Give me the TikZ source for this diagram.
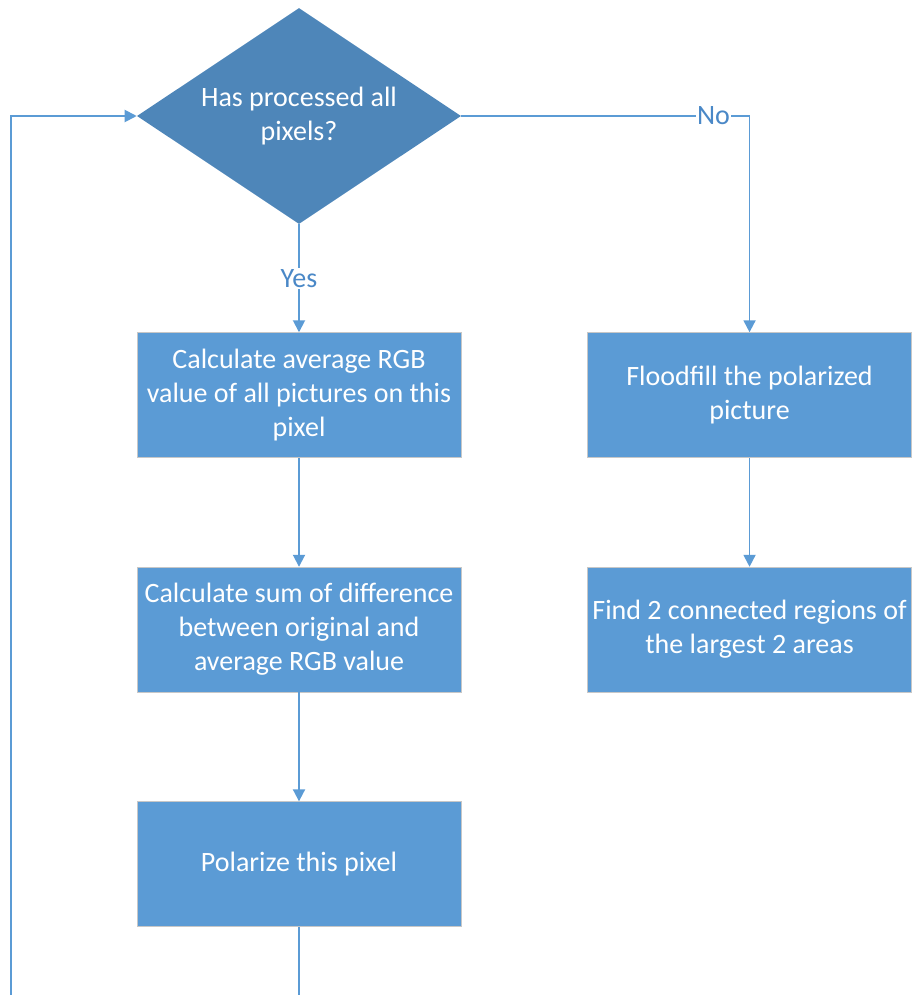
\documentclass[tikz,border=0pt]{standalone}
\usepackage{fontspec}
\setmainfont{Carlito}
\usepackage{tikz}
\usetikzlibrary{shapes.geometric,arrows.meta,positioning}
\definecolor{cBox}{HTML}{5B9BD5}
\definecolor{cDec}{HTML}{4E86B9}
\definecolor{cLine}{HTML}{5B9BD5}
\definecolor{cLab}{HTML}{4A88C7}
\tikzset{
  proc/.style = {rectangle, draw=black!22, fill=cBox, line width=0.4pt, text=white,
                 align=center, inner sep=2pt, minimum width=243pt, minimum height=93.75pt,
                 font=\fontsize{21}{25.5}\selectfont},
  dec/.style  = {diamond, aspect=1.5, fill=cDec, text=white, align=center, inner sep=0pt,
                 minimum width=243pt, minimum height=162pt,
                 font=\fontsize{21}{25.5}\selectfont},
  fl/.style   = {-{Triangle[length=9pt,width=9pt]}, draw=cLine, line width=1.4pt},
  ln/.style   = {draw=cLine, line width=1.4pt},
  lab/.style  = {fill=white, text=cLab, inner sep=1pt, font=\fontsize{21}{24}\selectfont},
}
\begin{document}
\begin{tikzpicture}[x=0.75pt, y=-0.75pt, node distance=81.75pt and 94.5pt]
  \useasboundingbox (0,0) rectangle (911,995);
  \node[dec] (check) at (299,116) {Has processed all\\pixels?};
  \node[proc, below=81pt of check] (avg) {Calculate average RGB\\value of all pictures on this\\pixel};
  \node[proc, below=of avg] (diff) {Calculate sum of difference\\between original and\\average RGB value};
  \node[proc, below=of diff] (polar) {Polarize this pixel};
  \node[proc, right=of avg] (flood) {Floodfill the polarized\\picture};
  \node[proc, below=of flood] (find) {Find 2 connected regions of\\the largest 2 areas};
  \coordinate (loopend) at (299,995);
  \coordinate (loopstart) at (11,995);

  \draw[fl] (check) -- node[lab]{Yes} (avg);
  \draw[fl] (check.east) -| node[lab, pos=0.4375]{No} (flood.north);
  \draw[fl] (avg) -- (diff);
  \draw[fl] (diff) -- (polar);
  \draw[fl] (flood) -- (find);
  \draw[ln] (polar.south) -- (loopend);
  \draw[fl] (loopstart) |- (check.west);
\end{tikzpicture}
\end{document}
